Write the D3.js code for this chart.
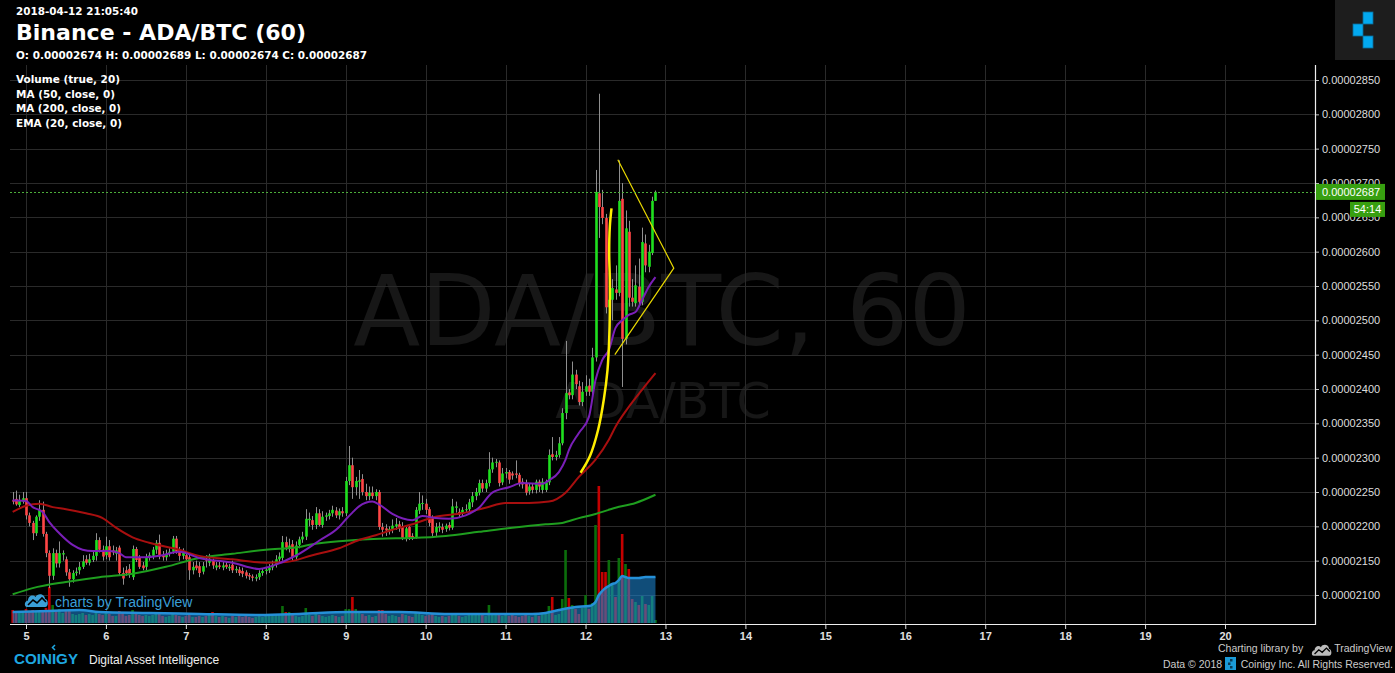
<!DOCTYPE html>
<html><head><meta charset="utf-8">
<script src="https://cdn.jsdelivr.net/npm/d3@7"></script>
<style>
html,body{margin:0;padding:0;background:#000;overflow:hidden;}
svg{display:block;}
</style></head>
<body>
<svg id="chart" width="1395" height="673"></svg>
<script>
// ---------- DATA (prices in 1e-8 BTC) ----------
const firstCandleTime = Date.UTC(2018, 3, 4, 20); // hourly candles start
// [open, high, low, close]
const ohlc = [
[2238,2250,2232,2236],[2240,2252,2230,2232],[2231,2246,2228,2238],[2236,2250,2233,2241],[2241,2250,2210,2216],
[2216,2220,2200,2205],[2205,2208,2180,2190],[2190,2216,2186,2214],[2214,2238,2208,2224],[2224,2236,2185,2189],
[2189,2192,2155,2161],[2161,2165,2110,2128],[2128,2168,2122,2161],[2161,2166,2140,2146],[2146,2178,2140,2161],
[2159,2165,2150,2161],[2152,2156,2128,2133],[2133,2138,2112,2123],[2123,2136,2118,2132],[2132,2140,2128,2134],
[2136,2148,2130,2141],[2141,2158,2138,2149],[2152,2158,2144,2147],[2147,2160,2143,2152],[2151,2165,2148,2157],
[2157,2190,2150,2180],[2180,2184,2162,2166],[2166,2172,2150,2156],[2158,2185,2152,2171],[2171,2180,2150,2155],
[2165,2172,2158,2162],[2160,2170,2150,2165],[2169,2172,2128,2132],[2132,2140,2115,2124],[2136,2142,2128,2132],
[2138,2145,2125,2130],[2126,2172,2122,2167],[2167,2170,2148,2151],[2154,2158,2138,2141],[2143,2148,2136,2139],
[2141,2160,2136,2155],[2155,2162,2150,2158],[2157,2170,2152,2166],[2166,2180,2160,2176],[2176,2188,2152,2156],
[2158,2164,2150,2155],[2155,2166,2150,2160],[2160,2168,2156,2163],[2163,2186,2160,2182],[2182,2186,2160,2163],
[2166,2170,2150,2157],[2157,2168,2152,2163],[2158,2162,2150,2152],[2155,2160,2122,2136],[2136,2148,2130,2141],
[2143,2150,2136,2139],[2142,2148,2126,2132],[2134,2148,2130,2142],[2153,2158,2140,2150],[2147,2160,2142,2153],
[2150,2153,2138,2143],[2140,2148,2136,2143],[2143,2150,2138,2141],[2140,2148,2136,2143],[2144,2148,2138,2141],
[2139,2145,2135,2141],[2144,2150,2132,2136],[2136,2142,2132,2138],[2137,2141,2128,2132],[2135,2140,2126,2131],
[2133,2136,2124,2128],[2129,2132,2122,2127],[2127,2130,2120,2125],[2124,2130,2120,2126],[2126,2136,2122,2132],
[2132,2138,2128,2135],[2135,2140,2130,2137],[2136,2145,2132,2140],[2140,2150,2136,2144],[2144,2158,2140,2152],
[2152,2162,2148,2156],[2154,2186,2150,2177],[2177,2185,2165,2169],[2168,2182,2162,2172],[2174,2180,2150,2155],
[2155,2178,2150,2172],[2173,2185,2168,2181],[2181,2192,2176,2185],[2185,2225,2180,2211],[2209,2220,2200,2211],
[2209,2215,2195,2202],[2202,2228,2196,2219],[2219,2225,2200,2202],[2202,2222,2198,2214],[2214,2220,2208,2216],
[2215,2224,2210,2219],[2219,2230,2214,2224],[2223,2228,2212,2216],[2216,2226,2210,2222],[2222,2228,2214,2219],
[2219,2272,2215,2266],[2266,2317,2260,2289],[2289,2300,2240,2257],[2257,2272,2245,2266],[2265,2282,2240,2267],
[2269,2276,2245,2250],[2250,2262,2238,2244],[2244,2258,2238,2249],[2249,2258,2240,2244],[2244,2254,2238,2250],
[2250,2253,2195,2199],[2199,2205,2185,2195],[2197,2203,2186,2194],[2194,2200,2188,2196],[2196,2210,2190,2201],
[2200,2212,2195,2203],[2203,2208,2192,2197],[2200,2206,2180,2183],[2183,2200,2178,2197],[2199,2202,2180,2184],
[2186,2190,2180,2184],[2184,2228,2182,2224],[2223,2250,2218,2233],[2233,2245,2224,2234],[2233,2240,2218,2224],
[2225,2228,2200,2205],[2214,2216,2185,2190],[2191,2205,2186,2199],[2198,2206,2192,2200],[2199,2204,2190,2195],
[2196,2204,2192,2201],[2202,2206,2194,2198],[2198,2240,2195,2229],[2227,2236,2220,2229],[2221,2226,2212,2217],
[2219,2228,2215,2224],[2224,2232,2220,2225],[2225,2240,2222,2235],[2235,2250,2228,2244],[2244,2256,2238,2250],
[2249,2268,2245,2263],[2263,2268,2250,2255],[2255,2268,2250,2263],[2263,2308,2258,2283],[2283,2300,2278,2293],
[2293,2298,2286,2294],[2293,2296,2258,2263],[2264,2285,2260,2277],[2277,2285,2270,2279],[2279,2282,2262,2268],
[2277,2280,2268,2274],[2277,2296,2270,2275],[2275,2278,2258,2263],[2265,2270,2255,2261],[2263,2268,2245,2249],
[2251,2262,2246,2258],[2258,2262,2248,2253],[2253,2268,2248,2265],[2265,2268,2250,2258],[2253,2270,2248,2265],
[2253,2268,2250,2264],[2264,2312,2260,2304],[2305,2330,2296,2301],[2301,2310,2296,2304],[2304,2330,2300,2321],
[2321,2372,2318,2365],[2365,2470,2356,2394],[2395,2400,2385,2391],[2391,2440,2385,2421],[2421,2428,2400,2407],
[2404,2412,2376,2381],[2381,2410,2375,2396],[2396,2420,2390,2404],[2405,2415,2390,2396],[2396,2460,2390,2446],
[2446,2719,2440,2687],[2685,2830,2620,2665],[2665,2690,2640,2649],[2649,2655,2510,2519],[2519,2540,2505,2530],
[2530,2560,2500,2547],[2545,2580,2530,2540],[2540,2733,2535,2674],[2677,2700,2403,2473],[2473,2660,2465,2634],
[2629,2645,2520,2533],[2533,2560,2520,2527],[2525,2580,2520,2551],[2549,2590,2520,2527],[2527,2635,2522,2614],
[2612,2625,2570,2580],[2578,2610,2570,2600],[2598,2680,2595,2674],[2674,2689,2674,2687]
];
const volumes = [
13,12,11,12,14,12,13,11,12,13, 15,36,18,12,14,10,12,13,9,8, 9,10,8,9,8,12,9,8,10,9,
7,7,12,10,7,8,13,9,8,7, 8,7,8,9,10,7,6,7,10,8, 7,6,7,9,6,6,7,6,7,8,
11,7,6,7,6,5,7,6,7,6, 7,6,5,6,7,6,7,8,7,9, 8,17,11,11,8,7,6,7,15,8,
7,9,8,7,6,7,8,7,6,7, 14,14,26,14,10,9,7,8,6,7, 13,13,9,7,8,7,6,9,8,7,
6,10,9,8,7,8,9,7,6,7, 6,7,9,8,7,6,7,8,9,8, 9,8,7,18,10,8,9,7,8,7,
8,7,6,7,8,7,6,8,7,9, 10,17,26,8,9,24,73,25,18,14, 9,15,28,14,20,98,137,51,51,63,
39,26,65,89,59,54,24,21,18,27, 19,18,27,3
];
// indicator lines: [candle index, value]
const volumeMA20 = [[0,11],[11,12],[20,13],[26,11],[41,10],[56,9],[74,8],[86,9],[101,11],[116,11],[131,9],[146,9],[156,9],[160,10],[164,13],[169,16],[173,17],[174,18],[175,21],[176,28],[177,32],[178,35],[179,37],[180,39],[181,40],[182,43],[183,47],[184,46],[185,45],[188,45],[190,46],[193,46]];
const ema20 = [[0,2238],[4,2237],[6,2228],[9,2221],[11,2206],[14,2190],[18,2173],[21,2166],[24,2164],[29,2164],[32,2161],[34,2155],[36,2155],[40,2155],[44,2157],[50,2163],[56,2154],[66,2147],[74,2138],[77,2141],[80,2146],[84,2155],[86,2160],[92,2179],[98,2199],[100,2210],[102,2220],[104,2229],[108,2236],[110,2232],[114,2218],[120,2209],[123,2215],[127,2212],[131,2211],[136,2216],[140,2227],[144,2249],[149,2257],[153,2263],[159,2262],[161,2267],[164,2279],[166,2297],[167,2311],[170,2336],[173,2359],[175,2413],[177,2442],[179,2457],[181,2489],[183,2500],[185,2508],[187,2512],[189,2530],[191,2549],[193,2563]];
const ma50 = [[0,2221],[4,2230],[8,2233],[12,2228],[16,2225],[22,2219],[27,2212],[31,2198],[36,2184],[41,2176],[50,2166],[56,2157],[66,2152],[76,2147],[82,2148],[90,2158],[98,2168],[104,2180],[109,2187],[114,2195],[120,2203],[127,2214],[135,2219],[142,2227],[148,2234],[155,2234],[161,2236],[166,2249],[170,2272],[175,2297],[179,2326],[181,2345],[185,2374],[189,2399],[193,2423]];
const ma200 = [[0,2101],[6,2110],[16,2119],[26,2126],[36,2131],[46,2141],[56,2154],[66,2160],[76,2166],[86,2170],[90,2174],[100,2179],[110,2182],[120,2183],[130,2186],[140,2192],[150,2198],[160,2203],[165,2205],[170,2212],[175,2218],[181,2227],[187,2234],[193,2246]];
// user drawings: [candle index (fractional), price]
const yellowCurve = [[170.5,2278],[173.3,2302],[175.8,2341],[177.5,2385],[178.6,2428],[179.1,2472],[179.3,2511],[179.3,2559],[179.1,2598],[179.3,2637],[179.8,2663]];
const triangle = [[181.7,2734],[198.5,2576],[180.8,2450]];
const yTicks = [2100,2150,2200,2250,2300,2350,2400,2450,2500,2550,2600,2650,2700,2750,2800,2850];
const dayTicks = [5,6,7,8,9,10,11,12,13,14,15,16,17,18,19,20];
const lastPrice = 2687;
const header = {date:"2018-04-12 21:05:40", title:"Binance - ADA/BTC (60)", ohlcText:"O: 0.00002674 H: 0.00002689 L: 0.00002674 C: 0.00002687"};
const studies = ["Volume (true, 20)","MA (50, close, 0)","MA (200, close, 0)","EMA (20, close, 0)"];

// ---------- SCALES ----------
const svg = d3.select("#chart");
const L = 10, R = 1315, T = 65, B = 624;
const xScale = d3.scaleUtc().domain([new Date(Date.UTC(2018,3,5)), new Date(Date.UTC(2018,3,20))]).range([26,1225]);
const tOf = i => new Date(firstCandleTime + i*3600000);
const X = i => xScale(tOf(i));
const yScale = d3.scaleLinear().domain([2100,2850]).range([595,80]);
const vScale = d3.scaleLinear().domain([0,137]).range([623,486]);

svg.append("rect").attr("width",1395).attr("height",673).attr("fill","#000");
svg.append("defs").append("clipPath").attr("id","plotclip").append("rect")
  .attr("x",L).attr("y",T).attr("width",R-L).attr("height",B-T);

// watermark
svg.append("text").attr("x",662).attr("y",345).attr("text-anchor","middle")
  .attr("font-family","DejaVu Sans").attr("font-size",98).attr("fill","#171717").text("ADA/BTC, 60");
svg.append("text").attr("x",663).attr("y",418).attr("text-anchor","middle")
  .attr("font-family","DejaVu Sans").attr("font-size",49).attr("fill","#171717").text("ADA/BTC");

// grid
const grid = svg.append("g");
grid.selectAll("line.h").data(yTicks).join("line").attr("x1",L).attr("x2",R)
  .attr("y1",d=>Math.round(yScale(d))+0.5).attr("y2",d=>Math.round(yScale(d))+0.5)
  .attr("stroke","#2a2a2a").attr("stroke-width",1);
grid.selectAll("line.v").data(dayTicks).join("line")
  .attr("x1",d=>Math.round(xScale(new Date(Date.UTC(2018,3,d))))+0.5)
  .attr("x2",d=>Math.round(xScale(new Date(Date.UTC(2018,3,d))))+0.5)
  .attr("y1",T).attr("y2",B).attr("stroke","#2a2a2a").attr("stroke-width",1);

const plot = svg.append("g").attr("clip-path","url(#plotclip)");

// volume bars
const bw = 2.6;
plot.append("g").selectAll("rect").data(volumes).join("rect")
  .attr("x",(d,i)=>X(i)-bw/2).attr("width",bw)
  .attr("y",d=>vScale(d)).attr("height",d=>vScale(0)-vScale(d))
  .attr("fill",(d,i)=>ohlc[i][3]>=ohlc[i][0] ? "#0b6d0b" : "#c40000");

// volume MA area
const vArea = d3.area().x(d=>X(d[0])).y0(vScale(0)).y1(d=>vScale(d[1])).curve(d3.curveMonotoneX);
const vLine = d3.line().x(d=>X(d[0])).y(d=>vScale(d[1])).curve(d3.curveMonotoneX);
plot.append("path").datum(volumeMA20).attr("d",vArea).attr("fill","rgba(30,140,220,0.55)");
plot.append("path").datum(volumeMA20).attr("d",vLine).attr("fill","none").attr("stroke","#2590d8").attr("stroke-width",2.5);

// "charts by TradingView"
const tvg = svg.append("g").attr("transform","translate(25,592)");
tvg.append("path").attr("d","M2,15 C-1,15 -1,9 3,8.5 C3,4 8,2 10.5,5 C12.5,0.5 20,1.5 20,7 C23.5,7 24,15 20,15 Z").attr("fill","#3a9fd8");
tvg.append("path").attr("d","M3,13 L8,8 L12,11 L17,6 L21,10").attr("fill","none").attr("stroke","#000").attr("stroke-width",1.6);
svg.append("text").attr("x",55).attr("y",607).attr("font-family","Liberation Sans").attr("font-size",14)
  .attr("fill","#3a9fd8").text("charts by TradingView");

// candles
const cg = plot.append("g");
cg.selectAll("line.w").data(ohlc).join("line")
  .attr("x1",(d,i)=>Math.round(X(i))+0.5).attr("x2",(d,i)=>Math.round(X(i))+0.5)
  .attr("y1",d=>yScale(d[1])).attr("y2",d=>yScale(d[2]))
  .attr("stroke","#8f8f8f").attr("stroke-width",1);
cg.selectAll("rect").data(ohlc).join("rect")
  .attr("x",(d,i)=>Math.round(X(i))+0.5-bw/2).attr("width",bw)
  .attr("y",d=>yScale(Math.max(d[0],d[3])))
  .attr("height",d=>Math.max(1,Math.abs(yScale(d[0])-yScale(d[3]))))
  .attr("fill",d=>d[3]>=d[0] ? "#1fe01f" : "#ff4646");

// moving averages
const pLine = d3.line().x(d=>X(d[0])).y(d=>yScale(d[1])).curve(d3.curveMonotoneX);
plot.append("path").datum(ma200).attr("d",pLine).attr("fill","none").attr("stroke","#1f9e1f").attr("stroke-width",2);
plot.append("path").datum(ma50).attr("d",pLine).attr("fill","none").attr("stroke","#a80f0f").attr("stroke-width",2);
plot.append("path").datum(ema20).attr("d",pLine).attr("fill","none").attr("stroke","#7a1fb8").attr("stroke-width",2);

// drawings
plot.append("path").datum(yellowCurve).attr("d",d3.line().x(d=>X(d[0])).y(d=>yScale(d[1])).curve(d3.curveCatmullRom))
  .attr("fill","none").attr("stroke","#ffee00").attr("stroke-width",2.5);
plot.append("path").datum(triangle).attr("d",d3.line().x(d=>X(d[0])).y(d=>yScale(d[1])))
  .attr("fill","none").attr("stroke","#e8d800").attr("stroke-width",1.2);

// last price line
svg.append("line").attr("x1",L).attr("x2",R).attr("y1",Math.round(yScale(lastPrice))+0.5).attr("y2",Math.round(yScale(lastPrice))+0.5)
  .attr("stroke","#4cae3a").attr("stroke-width",1).attr("stroke-dasharray","2,2");

// axes
const yAxis = d3.axisRight(yScale).tickValues(yTicks).tickFormat(v=>(v/1e8).toFixed(8)).tickSize(4).tickPadding(3);
const ya = svg.append("g").attr("transform",`translate(${R},0)`).call(yAxis);
ya.select(".domain").remove();
ya.selectAll("line").attr("stroke","#bbb");
ya.selectAll("text").attr("font-family","Liberation Sans").attr("font-size",11).attr("fill","#ddd");

const xAxis = d3.axisBottom(xScale).tickValues(dayTicks.map(d=>new Date(Date.UTC(2018,3,d))))
  .tickFormat(d3.utcFormat("%-d")).tickSize(5).tickPadding(3);
const xa = svg.append("g").attr("transform",`translate(0,${B})`).call(xAxis);
xa.select(".domain").remove();
xa.selectAll("line").attr("stroke","#ddd");
xa.selectAll("text").attr("font-family","Liberation Sans").attr("font-weight","bold").attr("font-size",11).attr("fill","#e0e0e0");

svg.append("path").attr("d",`M${L},${B+0.5}H${R+0.5}V${T}`).attr("fill","none").attr("stroke","#eee").attr("stroke-width",1.2);

// price tags
const py = yScale(lastPrice);
svg.append("rect").attr("x",R+1).attr("y",py-8).attr("width",69).attr("height",16).attr("fill","#379f10");
svg.append("text").attr("x",R+7).attr("y",py+4).attr("font-family","Liberation Sans").attr("font-size",11).attr("fill","#fff").text((lastPrice/1e8).toFixed(8));
svg.append("rect").attr("x",1350).attr("y",py+10).attr("width",35).attr("height",15).attr("fill","#379f10");
svg.append("text").attr("x",1367.5).attr("y",py+21.5).attr("text-anchor","middle").attr("font-family","Liberation Sans").attr("font-size",11).attr("fill","#fff").text("54:14");

// header
const hf = "DejaVu Sans";
svg.append("text").attr("x",16).attr("y",15).attr("font-family",hf).attr("font-weight","bold").attr("font-size",10.5)
  .attr("fill","#fff").attr("textLength",122).attr("lengthAdjust","spacingAndGlyphs").text(header.date);
svg.append("text").attr("x",16).attr("y",39.5).attr("font-family",hf).attr("font-weight","bold").attr("font-size",21.5)
  .attr("fill","#fff").attr("textLength",290).attr("lengthAdjust","spacingAndGlyphs").text(header.title);
svg.append("text").attr("x",16).attr("y",59).attr("font-family",hf).attr("font-weight","bold").attr("font-size",10.5)
  .attr("fill","#fff").attr("textLength",351).attr("lengthAdjust","spacingAndGlyphs").text(header.ohlcText);
const studyW = [104,99,105,106];
svg.selectAll("text.study").data(studies).join("text").attr("class","study")
  .attr("x",16).attr("y",(d,i)=>83+i*14.5).attr("font-family",hf).attr("font-weight","bold").attr("font-size",10.5)
  .attr("fill","#fff").attr("textLength",(d,i)=>studyW[i]).attr("lengthAdjust","spacingAndGlyphs").text(d=>d);

// top-right logo
svg.append("rect").attr("x",1335).attr("y",0).attr("width",60).attr("height",60).attr("fill","#1d1d1d");
[[1363,12],[1353,24],[1363,36]].forEach(p=>{
  svg.append("rect").attr("x",p[0]).attr("y",p[1]).attr("width",10).attr("height",12)
    .attr("fill","#03a9f0").attr("stroke","#0a6d9a").attr("stroke-width",0.8);
});

// footer
svg.append("text").attr("x",14).attr("y",664).attr("font-family","Liberation Sans").attr("font-weight","bold")
  .attr("font-size",15).attr("fill","#1ea7e1").attr("textLength",64).attr("lengthAdjust","spacingAndGlyphs").text("COINIGY");
svg.append("path").attr("d","M55,645 L52.5,647.5 L55,650").attr("fill","none").attr("stroke","#1ea7e1").attr("stroke-width",1.5);
svg.append("text").attr("x",89).attr("y",664).attr("font-family","Liberation Sans").attr("font-size",12)
  .attr("fill","#eee").text("Digital Asset Intelligence");

svg.append("text").attr("x",1218).attr("y",652).attr("font-family","Liberation Sans").attr("font-size",10.5)
  .attr("fill","#ccc").text("Charting library by");
const tv2 = svg.append("g").attr("transform","translate(1312,643) scale(0.85)");
tv2.append("path").attr("d","M2,15 C-1,15 -1,9 3,8.5 C3,4 8,2 10.5,5 C12.5,0.5 20,1.5 20,7 C23.5,7 24,15 20,15 Z").attr("fill","#bbb");
tv2.append("path").attr("d","M3,13 L8,8 L12,11 L17,6 L21,10").attr("fill","none").attr("stroke","#000").attr("stroke-width",1.6);
svg.append("text").attr("x",1392).attr("y",652).attr("text-anchor","end").attr("font-family","Liberation Sans").attr("font-size",10.5)
  .attr("fill","#ccc").text("TradingView");
svg.append("text").attr("x",1163).attr("y",668).attr("font-family","Liberation Sans").attr("font-size",10.5)
  .attr("fill","#ccc").text("Data © 2018");
svg.append("rect").attr("x",1225).attr("y",657).attr("width",11).attr("height",13).attr("fill","#1b9ad6");
[[1230,659],[1228,662.5],[1230,666]].forEach(p=>svg.append("rect").attr("x",p[0]).attr("y",p[1]).attr("width",2.5).attr("height",2.5).attr("fill","#0b3b55"));
svg.append("text").attr("x",1393).attr("y",668).attr("text-anchor","end").attr("font-family","Liberation Sans").attr("font-size",10.5)
  .attr("fill","#ccc").text("Coinigy Inc. All Rights Reserved.");
</script>
</body></html>
